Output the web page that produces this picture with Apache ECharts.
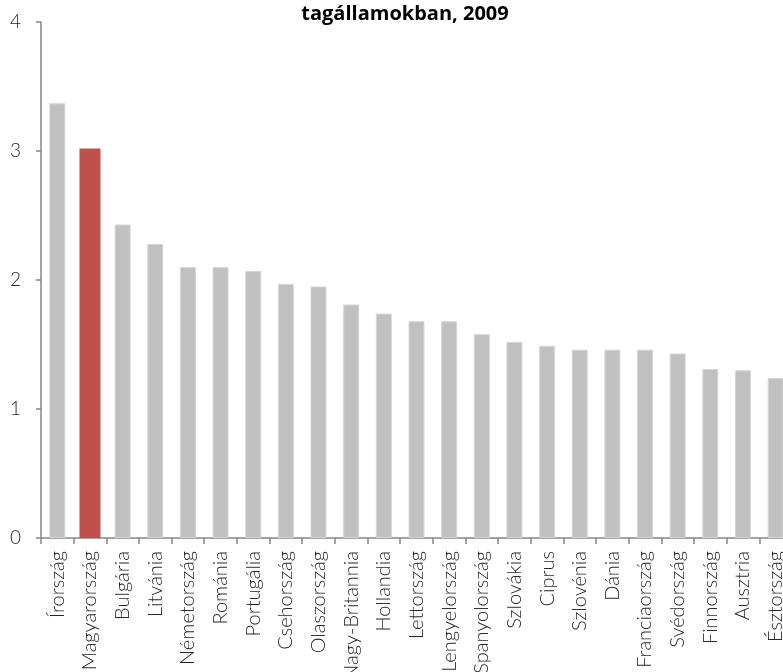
<!DOCTYPE html>
<html>
<head>
<meta charset="utf-8">
<script src="https://cdn.jsdelivr.net/npm/echarts@6/dist/echarts.min.js"></script>
<style>
  html, body { margin: 0; padding: 0; background: #ffffff; }
  #chart { width: 783px; height: 672px; }
</style>
</head>
<body>
<div id="chart"></div>
<script>
// Countries, ordered by value
const countries = [
  'Írország', 'Magyarország', 'Bulgária', 'Litvánia', 'Németország', 'Románia',
  'Portugália', 'Csehország', 'Olaszország', 'Nagy-Britannia', 'Hollandia',
  'Lettország', 'Lengyelország', 'Spanyolország', 'Szlovákia', 'Ciprus',
  'Szlovénia', 'Dánia', 'Franciaország', 'Svédország', 'Finnország',
  'Ausztria', 'Észtország'
];
const values = [
  3.37, 3.02, 2.43, 2.28, 2.10, 2.10,
  2.07, 1.97, 1.95, 1.81, 1.74,
  1.68, 1.68, 1.58, 1.52, 1.49,
  1.46, 1.46, 1.46, 1.43, 1.31,
  1.30, 1.24
];
const highlighted = 'Magyarország';
const yTicks = [0, 1, 2, 3, 4];
const titleText = 'tagállamokban, 2009';

const LABEL_FONT = 'Lato, "Open Sans", sans-serif';
const TITLE_FONT = '"Open Sans", "Noto Sans", sans-serif';
const GRAY = '#c0c0c0';
const RED = '#c0504d';
const AXIS = '#868686';
const CATEGORY_PX = 32.65;

// The highlighted country is drawn by its own (wider) series on a twin category axis
const grayData = countries.map((c, i) => (c === highlighted ? null : values[i]));
const redData = countries.map((c, i) => (c === highlighted ? values[i] : null));

const chart = echarts.init(document.getElementById('chart'), null, { renderer: 'canvas' });
chart.setOption({
  animation: false,
  backgroundColor: '#ffffff',
  title: {
    text: titleText,
    left: 400,
    top: -1,
    textAlign: 'center',
    textStyle: { fontFamily: TITLE_FONT, fontSize: 20, fontWeight: 'bold', color: '#000000' }
  },
  grid: {
    left: 41, top: 22, width: countries.length * CATEGORY_PX, height: 516,
    containLabel: false, outerBoundsMode: 'none'
  },
  xAxis: [{
    type: 'category',
    data: countries,
    boundaryGap: true,
    axisLine: { lineStyle: { color: AXIS, width: 1.5 } },
    axisTick: { show: true, length: 6, alignWithLabel: false, interval: 0, lineStyle: { color: AXIS, width: 1.5 } },
    axisLabel: {
      interval: 0,
      rotate: 90,
      margin: 13,
      fontFamily: LABEL_FONT,
      fontWeight: 300,
      fontSize: 20,
      color: '#262626'
    }
  }, {
    type: 'category',
    data: countries,
    boundaryGap: true,
    show: false,
    position: 'bottom'
  }],
  yAxis: {
    type: 'value',
    min: yTicks[0],
    max: yTicks[yTicks.length - 1],
    interval: 1,
    splitLine: { show: false },
    axisLine: { show: true, lineStyle: { color: AXIS, width: 1.5 } },
    axisTick: { show: true, length: 5, lineStyle: { color: AXIS, width: 1.5 } },
    axisLabel: { margin: 20, fontFamily: LABEL_FONT, fontWeight: 300, fontSize: 19, color: '#262626' }
  },
  series: [{
    type: 'bar',
    xAxisIndex: 0,
    data: grayData,
    barWidth: 16,
    itemStyle: { color: GRAY, borderColor: '#d6d6d6', borderWidth: 1 }
  }, {
    type: 'bar',
    xAxisIndex: 1,
    data: redData,
    barWidth: 21,
    itemStyle: { color: RED }
  }]
});
</script>
</body>
</html>
